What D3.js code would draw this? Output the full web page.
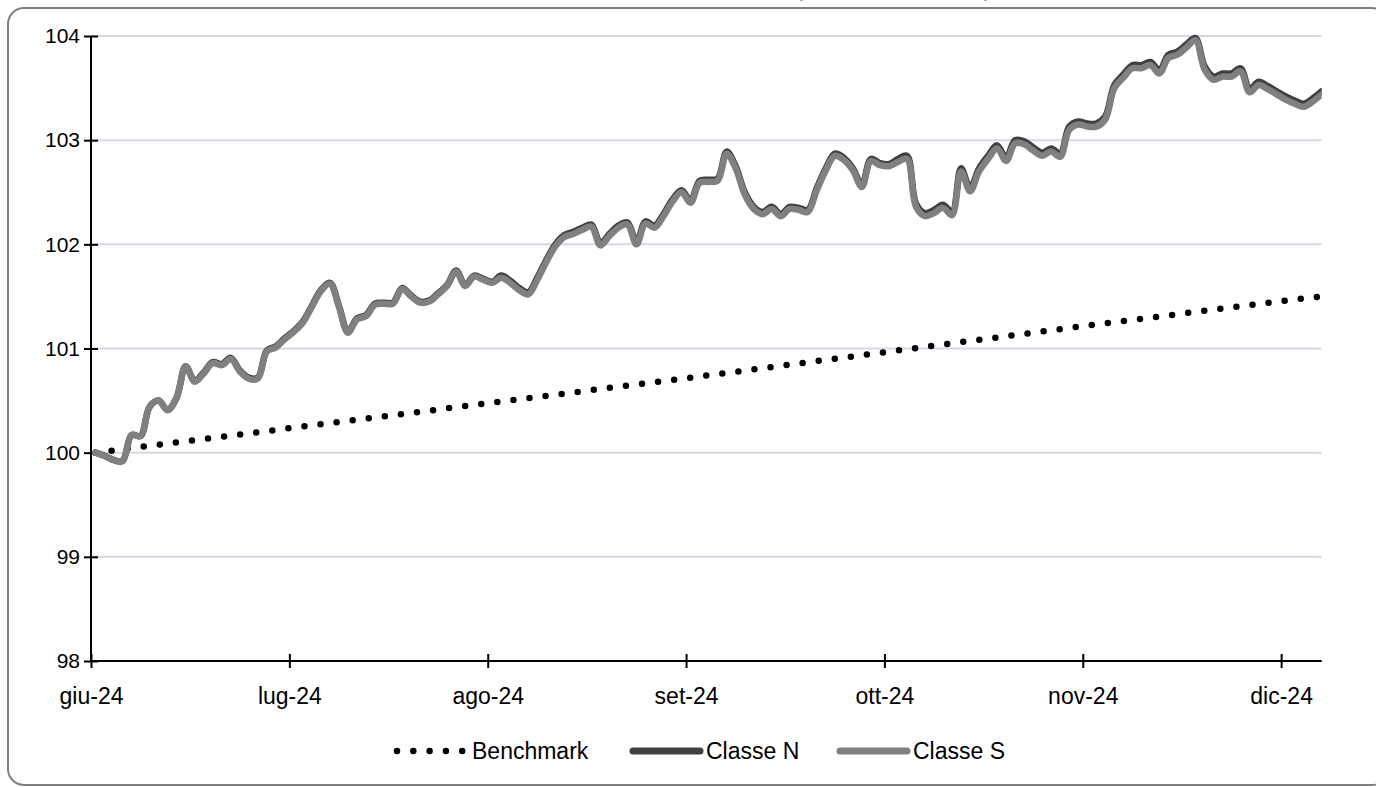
<!DOCTYPE html>
<html>
<head>
<meta charset="utf-8">
<script src="https://cdn.jsdelivr.net/npm/d3@7"></script>
<style>
  html, body { margin: 0; padding: 0; background: #fff; }
  svg { display: block; font-family: "Liberation Sans", Arial, sans-serif; }
</style>
</head>
<body>
<svg width="1376" height="787"></svg>
<script>
// trading-day index, one tick label every 22 days
const monthTicks = [0, 22, 44, 66, 88, 110, 132];
const monthLabels = ["giu-24", "lug-24", "ago-24", "set-24", "ott-24", "nov-24", "dic-24"];
const yTicks = [98, 99, 100, 101, 102, 103, 104];

const classeS = [
    100.00, 99.97, 99.93, 99.92, 100.17, 100.16, 100.44, 100.50, 100.41, 100.53,
    100.83, 100.68, 100.76, 100.86, 100.84, 100.90, 100.78, 100.71, 100.71, 100.97,
    101.01, 101.09, 101.16, 101.25, 101.40, 101.55, 101.62, 101.40, 101.15, 101.28,
    101.31, 101.42, 101.43, 101.43, 101.57, 101.50, 101.44, 101.45, 101.52, 101.60,
    101.74, 101.60, 101.69, 101.66, 101.63, 101.68, 101.63, 101.56, 101.52, 101.66,
    101.83, 101.98, 102.07, 102.10, 102.14, 102.17, 101.99, 102.08, 102.16, 102.19,
    102.00, 102.20, 102.16, 102.27, 102.41, 102.50, 102.40, 102.59, 102.60, 102.61,
    102.87, 102.73, 102.48, 102.34, 102.29, 102.34, 102.27, 102.34, 102.33, 102.31,
    102.52, 102.71, 102.85, 102.81, 102.71, 102.55, 102.80, 102.76, 102.75, 102.79,
    102.82, 102.36, 102.27, 102.30, 102.35, 102.28, 102.70, 102.51, 102.70, 102.82,
    102.92, 102.80, 102.97, 102.96, 102.90, 102.85, 102.89, 102.84, 103.10, 103.15,
    103.13, 103.13, 103.20, 103.50, 103.60, 103.69, 103.69, 103.72, 103.64, 103.79,
    103.82, 103.89, 103.96, 103.68, 103.58, 103.61, 103.61, 103.66, 103.46, 103.53,
    103.49, 103.44, 103.39, 103.35, 103.32, 103.37, 103.44
];

const classeN = [
    100.00, 99.97, 99.93, 99.92, 100.17, 100.16, 100.44, 100.50, 100.41, 100.53,
    100.83, 100.69, 100.77, 100.87, 100.85, 100.91, 100.79, 100.72, 100.72, 100.98,
    101.02, 101.10, 101.17, 101.26, 101.41, 101.56, 101.63, 101.41, 101.16, 101.29,
    101.32, 101.43, 101.44, 101.44, 101.58, 101.51, 101.45, 101.46, 101.53, 101.61,
    101.75, 101.61, 101.70, 101.67, 101.64, 101.70, 101.65, 101.58, 101.54, 101.68,
    101.85, 102.00, 102.09, 102.12, 102.16, 102.19, 102.01, 102.10, 102.18, 102.21,
    102.02, 102.22, 102.18, 102.29, 102.43, 102.52, 102.42, 102.61, 102.62, 102.63,
    102.89, 102.75, 102.50, 102.36, 102.31, 102.36, 102.29, 102.36, 102.35, 102.33,
    102.54, 102.73, 102.87, 102.83, 102.73, 102.57, 102.82, 102.78, 102.77, 102.82,
    102.85, 102.39, 102.30, 102.33, 102.38, 102.31, 102.73, 102.54, 102.73, 102.85,
    102.95, 102.83, 103.00, 102.99, 102.93, 102.88, 102.92, 102.87, 103.13, 103.18,
    103.16, 103.16, 103.23, 103.53, 103.63, 103.72, 103.72, 103.75, 103.67, 103.82,
    103.85, 103.92, 103.98, 103.71, 103.61, 103.64, 103.64, 103.69, 103.49, 103.56,
    103.52, 103.47, 103.42, 103.38, 103.35, 103.40, 103.47
];

const benchDays = [0, 22, 44, 66, 88, 110, 132, 136];
const benchmark = [100.00, 100.24, 100.48, 100.72, 100.97, 101.22, 101.46, 101.50];

const svg = d3.select("svg");
const plotLeft = 91, plotRight = 1321.7, plotTop = 36, plotBottom = 661;

const x = d3.scaleLinear().domain([0, 136.5]).range([plotLeft, plotRight]);
const y = d3.scaleLinear().domain([98, 104]).range([plotBottom, plotTop]);

// outer frame (runs past the right edge, as in the source)
svg.append("rect")
    .attr("x", 8).attr("y", 8)
    .attr("width", 1380).attr("height", 777)
    .attr("rx", 16)
    .attr("fill", "#fff")
    .attr("stroke", "#7f7f7f")
    .attr("stroke-width", 2);

// cut-off title above the frame
svg.append("text").attr("x", 796).attr("y", -3).attr("font-size", 20).attr("fill", "#7f7f7f").text("(");
svg.append("text").attr("x", 984).attr("y", -3).attr("font-size", 20).attr("fill", "#7f7f7f").text(")");

// gridlines
svg.selectAll(".grid")
    .data(yTicks.filter((d) => d > 98))
    .enter()
    .append("line")
    .attr("class", "grid")
    .attr("x1", plotLeft).attr("x2", plotRight)
    .attr("y1", (d) => y(d)).attr("y2", (d) => y(d))
    .attr("stroke", "#d3d9e6")
    .attr("stroke-width", 2);

// axes
const yAxis = svg.append("g")
    .attr("transform", `translate(${plotLeft},0)`)
    .call(d3.axisLeft(y).tickValues(yTicks).tickSize(7).tickPadding(10).tickFormat(d3.format("d")));

const xAxis = svg.append("g")
    .attr("transform", `translate(0,${plotBottom})`)
    .call(d3.axisBottom(x).tickValues(monthTicks).tickSize(7).tickPadding(20)
        .tickFormat((d, i) => monthLabels[i]));

yAxis.select(".domain").attr("d", `M0,${plotTop}H0V${plotBottom}`);
xAxis.select(".domain").attr("d", `M${plotLeft},0H${plotRight}`);
yAxis.selectAll(".tick line").attr("x1", 7);
xAxis.selectAll(".tick line").attr("y1", -7);

[yAxis, xAxis].forEach((g) => {
    g.attr("font-family", null).attr("font-size", null);
    g.select(".domain").attr("stroke", "#000").attr("stroke-width", 2);
    g.selectAll(".tick line").attr("stroke", "#000").attr("stroke-width", 2);
    g.selectAll(".tick text")
        .attr("fill", "#000")
        .style("font-family", "'Liberation Sans', Arial, sans-serif");
});
yAxis.selectAll(".tick text").attr("x", -11).style("font-size", "21px");
xAxis.selectAll(".tick text").style("font-size", "23px");

// series
svg.append("clipPath").attr("id", "plot")
    .append("rect").attr("x", 0).attr("y", 0).attr("width", plotRight).attr("height", 787);

const plot = svg.append("g").attr("clip-path", "url(#plot)");

const line = d3.line()
    .x((d) => x(d[0] + 0.5))
    .y((d) => y(d[1]))
    .curve(d3.curveCatmullRom.alpha(0.5));

plot.append("path")
    .datum(benchDays.map((d, i) => [d, benchmark[i]]))
    .attr("d", d3.line().x((d) => x(d[0] + 0.5)).y((d) => y(d[1])))
    .attr("fill", "none")
    .attr("stroke", "#000")
    .attr("stroke-width", 6.5)
    .attr("stroke-linecap", "round")
    .attr("stroke-dasharray", "0,16.2");

plot.append("path")
    .datum(classeN.map((v, i) => [i, v]))
    .attr("d", line)
    .attr("fill", "none")
    .attr("stroke", "#404040")
    .attr("stroke-width", 6.5)
    .attr("stroke-linecap", "round")
    .attr("stroke-linejoin", "round");

plot.append("path")
    .datum(classeS.map((v, i) => [i, v]))
    .attr("d", line)
    .attr("fill", "none")
    .attr("stroke", "#808080")
    .attr("stroke-width", 6.5)
    .attr("stroke-linecap", "round")
    .attr("stroke-linejoin", "round");

// legend
const legendItems = [
    { name: "Benchmark", x0: 397, x1: 463, tx: 472, color: "#000", dash: "0,16.3", w: 6.5 },
    { name: "Classe N", x0: 633, x1: 700, tx: 706, color: "#404040", dash: null, w: 7 },
    { name: "Classe S", x0: 840, x1: 907, tx: 913, color: "#808080", dash: null, w: 7 }
];
const ly = 751;

const legend = svg.append("g");
legend.selectAll("line")
    .data(legendItems)
    .enter()
    .append("line")
    .attr("x1", (d) => d.x0).attr("x2", (d) => d.x1)
    .attr("y1", ly).attr("y2", ly)
    .attr("stroke", (d) => d.color)
    .attr("stroke-width", (d) => d.w)
    .attr("stroke-linecap", "round")
    .attr("stroke-dasharray", (d) => d.dash);

legend.selectAll("text")
    .data(legendItems)
    .enter()
    .append("text")
    .attr("x", (d) => d.tx)
    .attr("y", ly + 8)
    .attr("font-size", 23)
    .attr("fill", "#000")
    .text((d) => d.name);
</script>
</body>
</html>
